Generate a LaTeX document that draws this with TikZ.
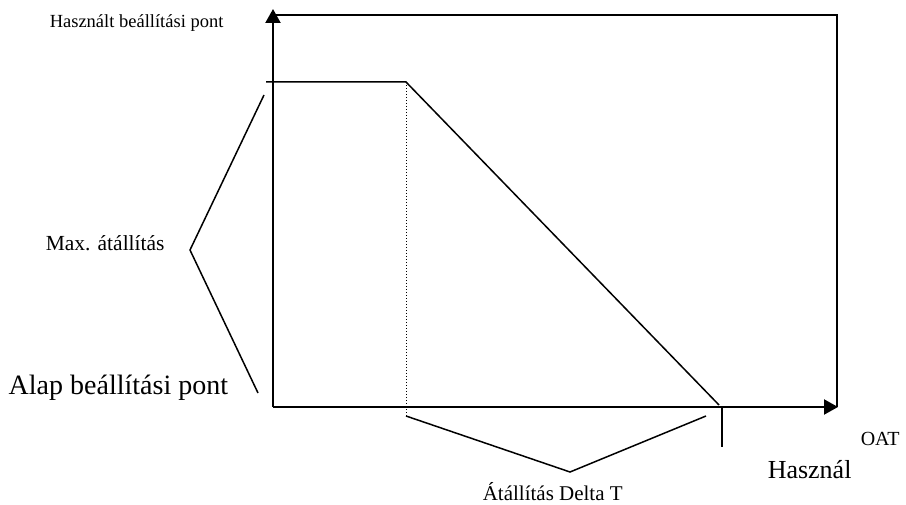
\documentclass[tikz,border=0pt]{standalone}
\usepackage{fontspec}
\setmainfont{Liberation Serif}
\usetikzlibrary{arrows.meta}

\begin{document}
\begin{tikzpicture} [x = 1pt, y = -1pt, line width = 1.5pt,
	axis/.style = {line width = 2.2pt, -{Triangle[length=14pt, width=15pt]}},
	txt/.style = {inner sep = 0pt, anchor = base west}]
	\useasboundingbox (0,0) rectangle (906,505);
	% axes and frame
	\coordinate (O) at (273,407);
	\coordinate (ytop) at (273,9);
	\coordinate (xend) at (838,407);
	\coordinate (tl) at (273,15);
	\coordinate (tr) at (837,15);
	\coordinate (br) at (837,407);
	\draw [line width = 2pt] (tl) -- (tr) -- (br);
	\draw [axis] (O) -- (ytop);
	\draw [axis] (O) -- (xend);
	% setpoint curve
	\coordinate (p0) at (266,82);
	\coordinate (p1) at (406,82);
	\coordinate (p2) at (719,405);
	\draw (p0) -- (p1) -- (p2);
	\coordinate (d1) at (406,416);
	\draw [dotted, line width = 1pt] (p1) -- (d1);
	\coordinate (t0) at (722,407);
	\coordinate (t1) at (722,447);
	\draw (t0) -- (t1);
	% brackets
	\coordinate (la) at (264,95);
	\coordinate (lb) at (190,250);
	\coordinate (lc) at (258,393);
	\draw (la) -- (lb) -- (lc);
	\coordinate (ba) at (570,472);
	\coordinate (bb) at (706,416);
	\draw (d1) -- (ba) -- (bb);
	% texts
	\node [txt, font = \fontsize{18.5}{18.5}\selectfont] (used) at (49,27.5) {Használt beállítási pont};
	\node [txt, font = \fontsize{21.5}{21.5}\selectfont] (maxadj) at (45,251) {Max. átállítás};
	\node [txt, font = \fontsize{28}{28}\selectfont] (base) at (8,395) {Alap beállítási pont};
	\node [txt, font = \fontsize{20}{20}\selectfont] (oat) at (860,445) {OAT};
	\node [txt, font = \fontsize{26}{26}\selectfont] (hasz) at (767,478) {Használ};
	\node [txt, font = \fontsize{21}{21}\selectfont] (delta) at (482,500) {Átállítás Delta T};
\end{tikzpicture}
\end{document}
